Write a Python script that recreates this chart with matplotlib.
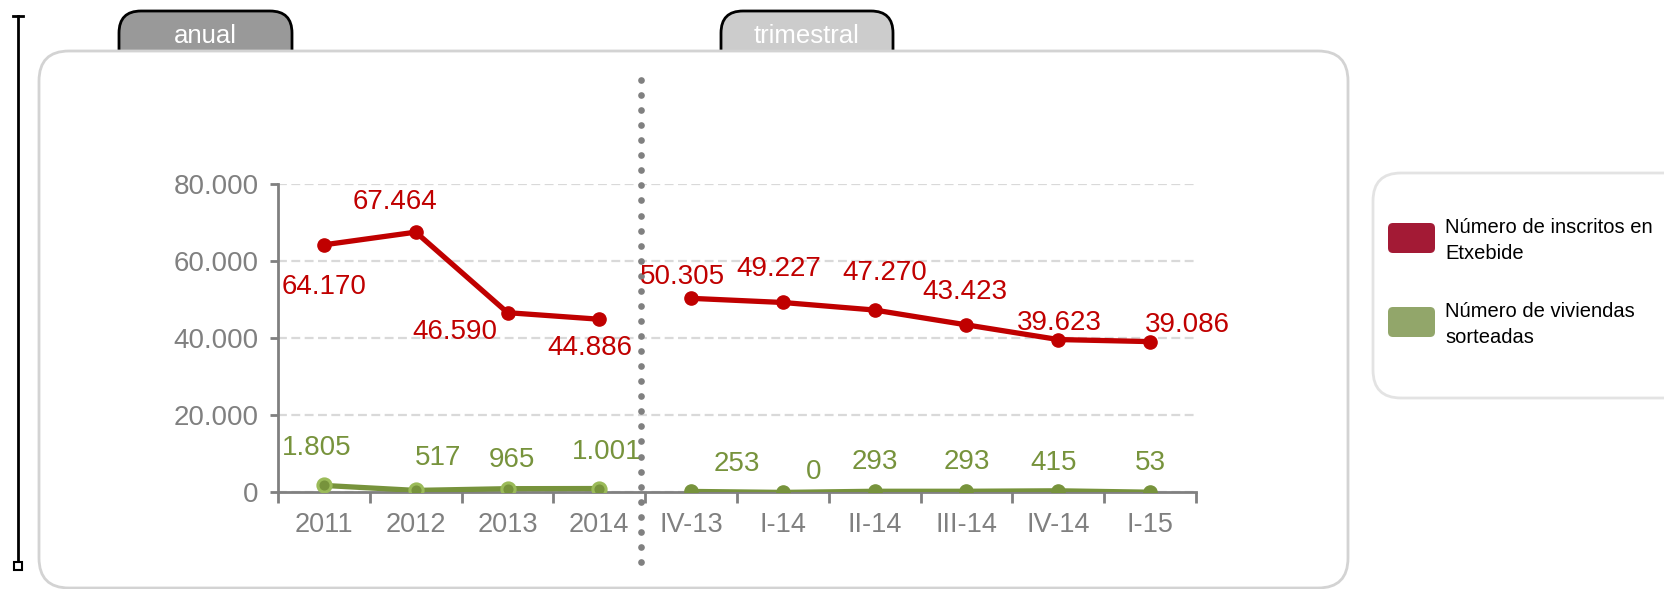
import matplotlib
matplotlib.use('Agg')
import matplotlib.pyplot as plt
import numpy as np
from matplotlib.patches import FancyBboxPatch, Rectangle
from matplotlib.path import Path
from matplotlib.patches import PathPatch

plt.rcParams['font.family'] = ['Liberation Sans', 'DejaVu Sans']

categories = ['2011', '2012', '2013', '2014', 'IV-13', 'I-14', 'II-14', 'III-14', 'IV-14', 'I-15']
inscritos = [64170, 67464, 46590, 44886, 50305, 49227, 47270, 43423, 39623, 39086]
viviendas = [1805, 517, 965, 1001, 253, 0, 293, 293, 415, 53]
n_anual = 4

legend_labels = ['Número de inscritos en\nEtxebide', 'Número de viviendas\nsorteadas']

# label offsets in points (dx, dy)
off_red = [(0, -30), (-15, 22), (-38, -14), (-7, -21), (-6, 15), (-3, 24), (7, 27), (-1, 24), (1, 12), (27, 12)]
off_green = [(-5, 27), (16, 23), (3, 21), (5, 26), (33, 20), (22, 15), (0, 21), (0, 21), (-3, 20), (0, 21)]

def fmt(v):
    return f'{v:,}'.replace(',', '.')

RED = '#c00000'
GREEN = '#77933c'
LGREEN = '#9bbb59'
GRAY = '#808080'

fig = plt.figure(figsize=(16.64, 5.89), dpi=100)

# background decorations in pixel coords
bg = fig.add_axes([0, 0, 1, 1], zorder=0)
bg.set_xlim(0, 1664)
bg.set_ylim(589, 0)
bg.axis('off')

def tab(x0, x1, y0, y1, r, fc, text):
    verts = [(x0, y1 + 25), (x0, y0 + r), (x0, y0), (x0 + r, y0),
             (x1 - r, y0), (x1, y0), (x1, y0 + r), (x1, y1 + 25)]
    codes = [Path.MOVETO, Path.LINETO, Path.CURVE3, Path.CURVE3,
             Path.LINETO, Path.CURVE3, Path.CURVE3, Path.LINETO]
    bg.add_patch(PathPatch(Path(verts, codes), fc=fc, ec='black', lw=2, zorder=1))
    bg.text((x0 + x1) / 2, (y0 + y1) / 2 + 5, text, color='white', fontsize=18.5,
            ha='center', va='center', zorder=2)

tab(119, 292, 11, 51, 22, '#999999', 'anual')
tab(721, 893, 11, 51, 22, '#cccccc', 'trimestral')

bg.add_patch(FancyBboxPatch((39, 51), 1309, 537, boxstyle='round,pad=0,rounding_size=30',
                            fc='white', ec='#d3d3d3', lw=2, zorder=3))
bg.add_patch(FancyBboxPatch((1373, 173), 320, 225, boxstyle='round,pad=0,rounding_size=28',
                            fc='white', ec='#e3e3e3', lw=2, zorder=3))

# left bracket line
bg.plot([18, 18], [16, 566], color='black', lw=2, zorder=4)
bg.plot([13, 23], [16, 16], color='black', lw=2, zorder=4)
bg.add_patch(Rectangle((14, 562), 8, 8, fc='white', ec='black', lw=1.5, zorder=5))

# legend
for i, (lab, col) in enumerate(zip(legend_labels, ['#a31a35', '#92a66a'])):
    y = 223 + i * 84
    bg.add_patch(FancyBboxPatch((1388, y), 47, 30, boxstyle='round,pad=0,rounding_size=5',
                                fc=col, ec='none', zorder=4))
    bg.text(1445, y - 5, lab, fontsize=14.5, va='top', ha='left', color='black',
            linespacing=1.45, zorder=4)

# main chart
ax = fig.add_axes([0.1671, 0.164, 0.5516, 0.524], zorder=5)
ax.patch.set_alpha(0)
x = list(range(len(categories)))

LW = 3.8
ax.plot(x[:n_anual], inscritos[:n_anual], color=RED, lw=LW, marker='o', ms=9.5, zorder=4)
ax.plot(x[n_anual:], inscritos[n_anual:], color=RED, lw=LW, marker='o', ms=9.5, zorder=4)
ax.plot(x[:n_anual], viviendas[:n_anual], color=GREEN, lw=LW, marker='o', ms=9.5,
        mfc=GREEN, mec=LGREEN, mew=2.2, zorder=4)
ax.plot(x[n_anual:], viviendas[n_anual:], color=GREEN, lw=LW, marker='o', ms=9.5, zorder=4)

for i in x:
    ax.annotate(fmt(inscritos[i]), (i, inscritos[i]), xytext=off_red[i], textcoords='offset points',
                ha='center', va='center', color=RED, fontsize=20, zorder=6)
    ax.annotate(fmt(viviendas[i]), (i, viviendas[i]), xytext=off_green[i], textcoords='offset points',
                ha='center', va='center', color=GREEN, fontsize=20, zorder=6)

ax.set_xlim(-0.5, len(categories) - 0.5)
ax.set_ylim(0, 80000)
ax.set_yticks([0, 20000, 40000, 60000, 80000])
ax.set_yticklabels([fmt(v) for v in [0, 20000, 40000, 60000, 80000]])
ax.yaxis.grid(True, color='#d9d9d9', lw=1.6, ls=(0, (4, 2)))
ax.set_axisbelow(True)
ax.set_xticks(x)
ax.set_xticklabels(categories)
ax.set_xticks([i - 0.5 for i in range(len(categories) + 1)], minor=True)
ax.tick_params(axis='x', which='major', length=0, pad=14, labelsize=19.5, labelcolor=GRAY)
ax.tick_params(axis='x', which='minor', length=8, width=2, color=GRAY, direction='out')
ax.tick_params(axis='y', length=6, width=2, color=GRAY, labelsize=20, labelcolor=GRAY, pad=8)
for s in ['top', 'right']:
    ax.spines[s].set_visible(False)
for s in ['left', 'bottom']:
    ax.spines[s].set_color(GRAY)
    ax.spines[s].set_linewidth(2)

# dotted separator between annual and quarterly
dots_y = np.linspace(1.3363, -0.2255, 33)
ax.plot([n_anual - 0.55] * len(dots_y), dots_y, transform=ax.get_xaxis_transform(),
        ls='none', marker='o', ms=4.8, color=GRAY, mec='none', clip_on=False, zorder=3)

fig.savefig('out.png', dpi=100)
